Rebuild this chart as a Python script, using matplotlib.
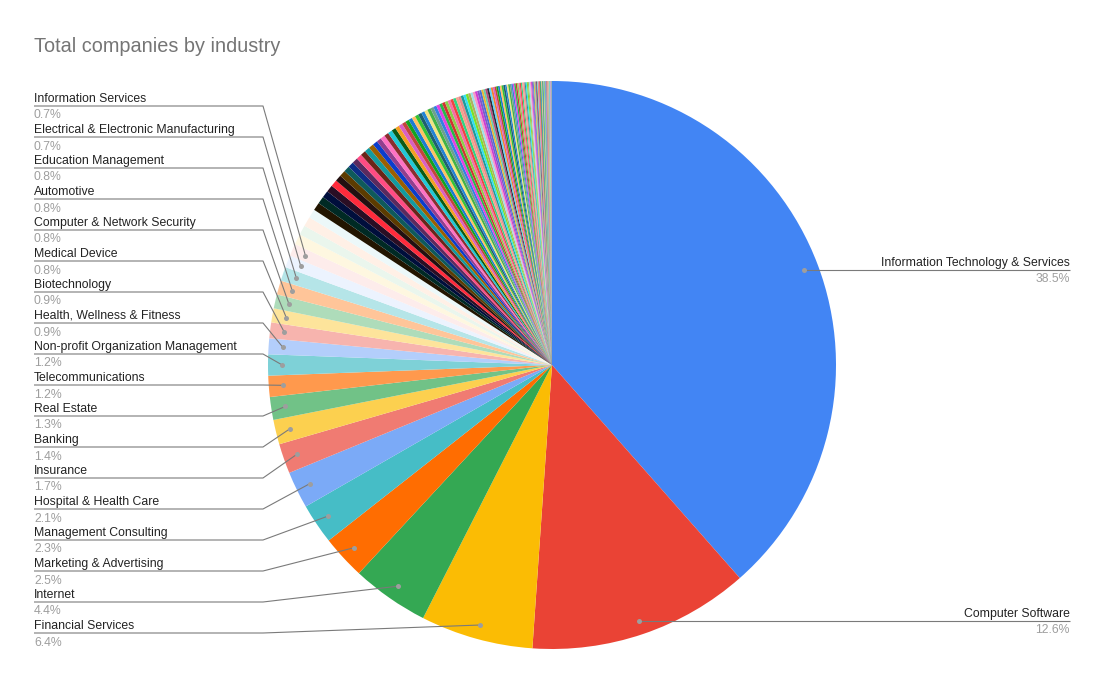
import matplotlib
matplotlib.use('Agg')
import matplotlib.pyplot as plt
import numpy as np

plt.rcParams['font.family'] = ['Liberation Sans', 'DejaVu Sans']

# ---------------------------------------------------------------------------
# Data (percent of companies)
# ---------------------------------------------------------------------------
industries = [
    'Information Technology & Services', 'Computer Software',
    'Financial Services', 'Internet', 'Marketing & Advertising',
    'Management Consulting', 'Hospital & Health Care', 'Insurance',
    'Banking', 'Real Estate', 'Telecommunications',
    'Non-profit Organization Management', 'Health, Wellness & Fitness',
    'Biotechnology', 'Medical Device', 'Computer & Network Security',
    'Automotive', 'Education Management',
    'Electrical & Electronic Manufacturing', 'Information Services',
]
shares = [38.5, 12.6, 6.4, 4.4, 2.5, 2.3, 2.1, 1.7, 1.4, 1.3, 1.2, 1.2,
          0.9, 0.9, 0.8, 0.8, 0.8, 0.8, 0.7, 0.7]

# unlabeled long tail of industries
pale_shares = [0.6, 0.55, 0.55, 0.5]
dark_shares = [0.45, 0.42, 0.4, 0.4, 0.38, 0.36, 0.35, 0.34, 0.33, 0.32,
               0.31, 0.3, 0.3, 0.29, 0.28, 0.27, 0.26, 0.25, 0.25, 0.24,
               0.23]
small_shares = [0.22, 0.22, 0.21, 0.21, 0.2, 0.2, 0.2, 0.19, 0.19, 0.19,
                0.18, 0.18, 0.18, 0.17, 0.17, 0.17, 0.16, 0.16, 0.16, 0.15,
                0.15, 0.15, 0.14, 0.14, 0.14, 0.13, 0.13, 0.13, 0.12, 0.12]
tiny_shares = [0.11, 0.11, 0.11, 0.11, 0.11, 0.11, 0.1, 0.1, 0.1, 0.1,
               0.1, 0.1, 0.1, 0.09, 0.09, 0.09, 0.09, 0.08, 0.08, 0.08,
               0.08, 0.08, 0.07, 0.07, 0.07, 0.07, 0.07, 0.06, 0.06, 0.06,
               0.06, 0.06, 0.06, 0.05, 0.05, 0.05, 0.05, 0.05, 0.05, 0.04,
               0.04, 0.04, 0.04, 0.04, 0.04, 0.04, 0.04, 0.03, 0.03, 0.03,
               0.03, 0.03, 0.03, 0.03, 0.03, 0.02, 0.02, 0.02, 0.02, 0.02,
               0.02, 0.02, 0.02, 0.02, 0.02, 0.01, 0.01, 0.01, 0.01, 0.01,
               0.01, 0.01, 0.01, 0.01, 0.01, 0.01, 0.01]

# ---------------------------------------------------------------------------
# Colours (Google Sheets-like palette)
# ---------------------------------------------------------------------------
main_colors = ['#4285F4', '#EA4335', '#FBBC04', '#34A853', '#FF6D01',
               '#46BDC6', '#7BAAF7', '#F07B72', '#FCD04F', '#71C287',
               '#FF994D', '#7ED1D7', '#B3CEFB', '#F7B4AE', '#FDE49B',
               '#AEDCBA', '#FFC599', '#B5E5E8', '#ECF3FE', '#FDECEB']
pale_colors = ['#FEF7E0', '#EAF6ED', '#FFF0E6', '#ECF8F9']
dark_colors = ['#221500', '#002A24', '#000E3C', '#2A0E24', '#FF2B3C',
               '#231010', '#5C3B00', '#0E5A5B', '#0C2C86', '#5B2A5E',
               '#FF4C83', '#6A2418', '#149A9F', '#9B5F00', '#0B3DCC',
               '#923E8E', '#FF72C4', '#8A2E2E', '#22C8D6', '#0B5A15',
               '#F4A022']
tail_colors = ['#D960C4', '#C4443C', '#14A31E', '#1B7BD2', '#FFC163',
               '#34C236', '#1F5F6F', '#2382D4', '#F2E384', '#41B345',
               '#6F9F8F', '#3381E2', '#E442E2', '#29B84A', '#D23232',
               '#8AD14B', '#F36FA9', '#F04343', '#33D283', '#F7A08C',
               '#E58A8A', '#1F9A9A', '#30E0F0', '#7BE02A', '#B0B060',
               '#9CE3E8', '#F59AC8', '#D13DD1', '#8355C7', '#4A6FD4',
               '#E8B830', '#66CCAA', '#B84A7A', '#2B2B3B', '#5FD3F3',
               '#F08030']

W, H = 1105, 683
CX, CY, R = 552, 365, 284          # pie centre / radius in pixels
LEFT_X, ELBOW_X, RIGHT_X = 34, 263, 1070


def py(y):
    """pixel row (from top) -> data y"""
    return H - y


values = shares + pale_shares + dark_shares + small_shares + tiny_shares
n_tail = len(small_shares) + len(tiny_shares)
colors = (main_colors + pale_colors + dark_colors +
          [tail_colors[i % len(tail_colors)] for i in range(n_tail)])

fig = plt.figure(figsize=(W / 100, H / 100), dpi=100)
ax = fig.add_axes([0, 0, 1, 1])
wedges, _ = ax.pie(values, colors=colors, center=(CX, py(CY)), radius=R,
                   startangle=90, counterclock=False,
                   wedgeprops=dict(linewidth=0))
ax.set_xlim(0, W)
ax.set_ylim(0, H)
ax.set_aspect('auto')
ax.axis('off')

ax.text(LEFT_X, py(52), 'Total companies by industry', fontsize=14.3,
        color='#757575', va='baseline', ha='left')

line_kw = dict(color='#7a7a7a', linewidth=0.8, solid_capstyle='butt')
name_kw = dict(fontsize=8.8, color='#222222', va='baseline')
pct_kw = dict(fontsize=8.8, color='#9e9e9e', va='baseline')

total = sum(values)
for i, (name, w) in enumerate(zip(industries, wedges)):
    mid = np.deg2rad((w.theta1 + w.theta2) / 2)
    dx = CX + 0.95 * R * np.cos(mid)
    dy = py(CY) + 0.95 * R * np.sin(mid)
    pct = f'{values[i] / total * 100:.1f}%'
    if i < 2:
        ax.plot([dx, RIGHT_X], [dy, dy], **line_kw)
        ax.text(RIGHT_X, dy + 4, name, ha='right', **name_kw)
        ax.text(RIGHT_X, dy - 12.5, pct, ha='right', **pct_kw)
    else:
        slot = len(industries) - 1 - i
        ly = py(106 + 31 * slot)
        ax.plot([dx, ELBOW_X, LEFT_X], [dy, ly, ly], **line_kw)
        ax.text(LEFT_X, ly + 4, name, ha='left', **name_kw)
        ax.text(LEFT_X, ly - 12.5, pct, ha='left', **pct_kw)
    ax.plot(dx, dy, 'o', ms=3.6, color='#9e9e9e', markeredgewidth=0,
            zorder=5)

fig.savefig('out.png', dpi=100)
